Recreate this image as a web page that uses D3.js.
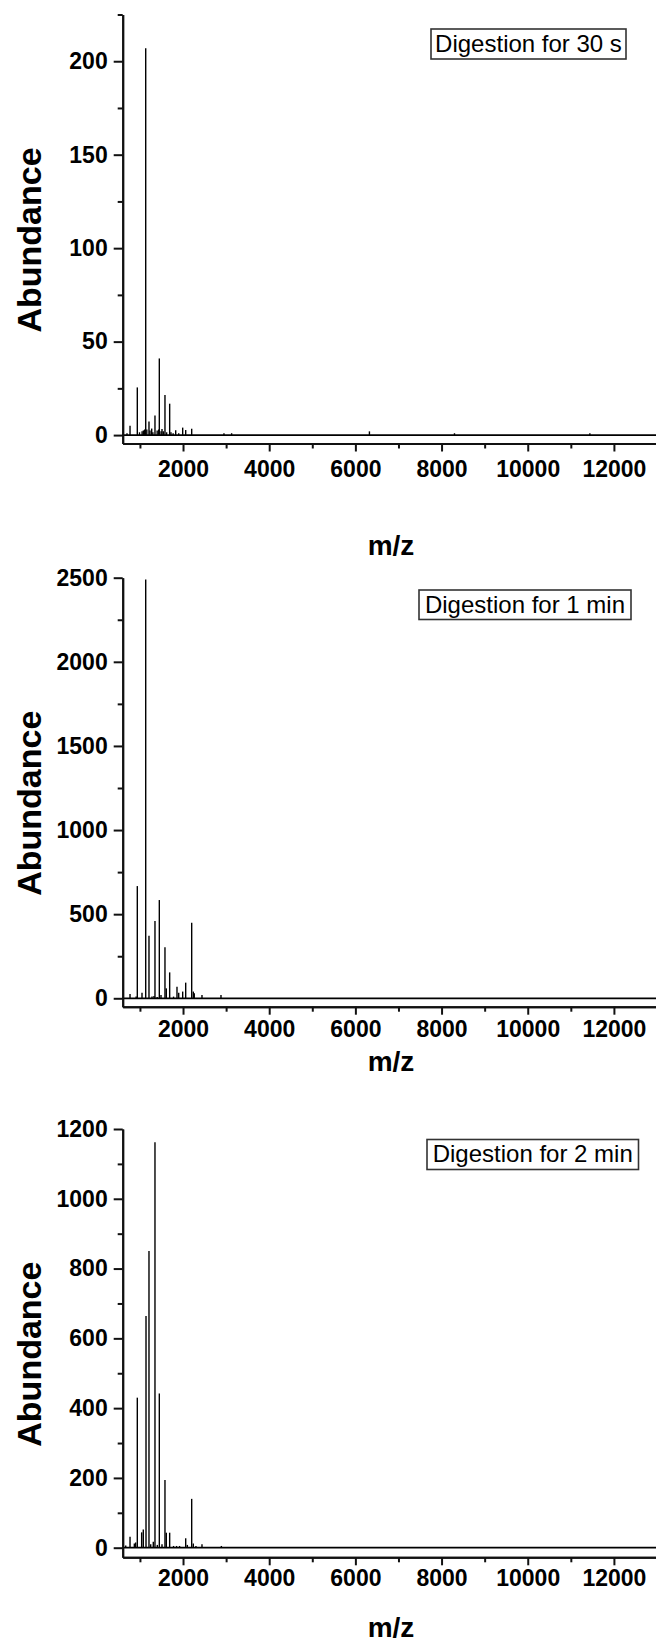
<!DOCTYPE html>
<html>
<head>
<meta charset="utf-8">
<script src="https://cdn.jsdelivr.net/npm/d3@7"></script>
<style>
    body { margin: 0; background: #fff; }
    svg text { font-family: 'Liberation Sans', Arial, sans-serif; fill: #000; }
</style>
</head>
<body>
<div class="canvas"></div>
<script>
// peaks (m/z, abundance)
const mz30s = [700, 770, 939, 990, 1050, 1080, 1110, 1134, 1160, 1210, 1233, 1273, 1300, 1349, 1400, 1435, 1450, 1490, 1512, 1542, 1581, 1620, 1690, 1720, 1770, 1830, 1900, 1992, 2062, 2201, 2950, 3128, 6326, 8300, 11442]
const ab30s = [1, 5, 25.5, 1.5, 2, 2.5, 3, 207, 3, 7.3, 2.5, 3.5, 1.5, 10.5, 2.5, 3, 41, 2, 3.3, 2, 21.4, 1.5, 16.8, 1.5, 1, 2.6, 1, 4, 2.7, 3.4, 1, 1, 2, 1, 1]

const mz1min = [770, 912, 939, 1048, 1134, 1210, 1280, 1326, 1349, 1400, 1450, 1489, 1581, 1612, 1690, 1780, 1860, 1900, 1992, 2062, 2201, 2239, 2261, 2440, 2881]
const ab1min = [25, 10, 667, 33, 2490, 372, 10, 14, 459, 8, 584, 20, 303, 59, 154, 10, 69, 33, 40, 93, 449, 40, 30, 20, 20]

const mz2min = [670, 770, 870, 900, 939, 1040, 1078, 1141, 1210, 1250, 1310, 1349, 1403, 1450, 1512, 1581, 1612, 1690, 1780, 1850, 1920, 2062, 2100, 2201, 2239, 2300, 2440, 2890]
const ab2min = [6, 31.5, 12, 15, 430, 44, 52.5, 664, 850, 10, 17, 1162, 8, 442, 10, 194, 43, 43, 5, 5, 5, 27, 8, 140, 12, 5, 10, 5]

const titles = ['Digestion for 30 s', 'Digestion for 1 min', 'Digestion for 2 min']

// axis ticks
const xMajor = [2000, 4000, 6000, 8000, 10000, 12000]
const xMinor = [1000, 3000, 5000, 7000, 9000, 11000, 13000]
const yMajor30s = [0, 50, 100, 150, 200]
const yMinor30s = [25, 75, 125, 175, 225]
const yMajor1min = [0, 500, 1000, 1500, 2000, 2500]
const yMinor1min = [250, 750, 1250, 1750, 2250]
const yMajor2min = [0, 200, 400, 600, 800, 1000, 1200]
const yMinor2min = [100, 300, 500, 700, 900, 1100]

// graph dimensions
const dims = { width: 656, height: 1645 }
const plotLeft = 122.7
const plotRight = 657

const svg = d3.select('.canvas')
    .append('svg')
    .attr('width', dims.width)
    .attr('height', dims.height)

const x = d3.scaleLinear()
    .domain([600, 13000])
    .range([plotLeft, plotRight])

const panels = [
    { mz: mz30s, ab: ab30s, yDomain: [-4.5, 225], top: 14.5, bottom: 443.5, major: yMajor30s, minor: yMinor30s,
      box: { x: 431, y: 29, w: 195, h: 30 }, mzY: 555, pad: 9 },
    { mz: mz1min, ab: ab1min, yDomain: [-50, 2500], top: 577.7, bottom: 1006.7, major: yMajor1min, minor: yMinor1min,
      box: { x: 419, y: 590, w: 212, h: 29.5 }, mzY: 1071, pad: 6 },
    { mz: mz2min, ab: ab2min, yDomain: [-27.5, 1200], top: 1129, bottom: 1557.3, major: yMajor2min, minor: yMinor2min,
      box: { x: 427, y: 1139.5, w: 211.5, h: 30 }, mzY: 1637, pad: 4 }
]

const drawPanel = (p, i) => {
    const y = d3.scaleLinear()
        .domain(p.yDomain)
        .range([p.bottom, p.top])

    const g = svg.append('g')

    // zero baseline of the spectrum
    g.append('line')
        .attr('x1', x(600))
        .attr('x2', x(13000))
        .attr('y1', y(0))
        .attr('y2', y(0))
        .attr('stroke', '#000')
        .attr('stroke-width', 1.7)

    // peaks
    const peaks = p.mz.map((m, j) => ({ mz: m, ab: p.ab[j] }))
    g.selectAll('line.peak')
        .data(peaks)
        .enter()
        .append('line')
        .attr('class', 'peak')
        .attr('x1', d => x(d.mz))
        .attr('x2', d => x(d.mz))
        .attr('y1', y(0))
        .attr('y2', d => y(d.ab))
        .attr('stroke', '#000')
        .attr('stroke-width', 1.4)

    // axes
    const yMinorAxis = d3.axisLeft(y).tickValues(p.minor).tickSize(5).tickSizeOuter(0).tickFormat('')
    const yAxis = d3.axisLeft(y).tickValues(p.major).tickSize(9).tickSizeOuter(0).tickPadding(6).tickFormat(d3.format('d'))
    const xMinorAxis = d3.axisBottom(x).tickValues(xMinor).tickSize(5).tickSizeOuter(0).tickFormat('')
    const xAxis = d3.axisBottom(x).tickValues(xMajor).tickSize(8).tickSizeOuter(0).tickPadding(p.pad).tickFormat(d3.format('d'))

    g.append('g')
        .attr('transform', `translate(${plotLeft}, 0)`)
        .call(yMinorAxis)
    g.append('g')
        .attr('transform', `translate(${plotLeft}, 0)`)
        .call(yAxis)
    g.append('g')
        .attr('transform', `translate(0, ${p.bottom})`)
        .call(xMinorAxis)
    g.append('g')
        .attr('transform', `translate(0, ${p.bottom})`)
        .call(xAxis)

    g.selectAll('.domain, .tick line')
        .attr('stroke', '#111')
        .attr('stroke-width', 2)
    g.selectAll('.tick text')
        .attr('font-size', 23)
        .attr('font-weight', 'bold')
        .style('font-family', "'Liberation Sans', Arial, sans-serif")

    // axis titles
    g.append('text')
        .attr('transform', `translate(41, ${(p.top + p.bottom) / 2 + 11}) rotate(-90)`)
        .attr('text-anchor', 'middle')
        .attr('font-size', 34)
        .attr('font-weight', 'bold')
        .text('Abundance')

    g.append('text')
        .attr('x', 391)
        .attr('y', p.mzY)
        .attr('text-anchor', 'middle')
        .attr('font-size', 28)
        .attr('font-weight', 'bold')
        .text('m/z')

    // legend box
    g.append('rect')
        .attr('x', p.box.x)
        .attr('y', p.box.y)
        .attr('width', p.box.w)
        .attr('height', p.box.h)
        .attr('fill', '#fff')
        .attr('stroke', '#333')
        .attr('stroke-width', 1.6)

    g.append('text')
        .attr('x', p.box.x + p.box.w / 2)
        .attr('y', p.box.y + 22.7)
        .attr('text-anchor', 'middle')
        .attr('font-size', 24)
        .text(titles[i])
}

panels.forEach(drawPanel)
</script>
</body>
</html>
